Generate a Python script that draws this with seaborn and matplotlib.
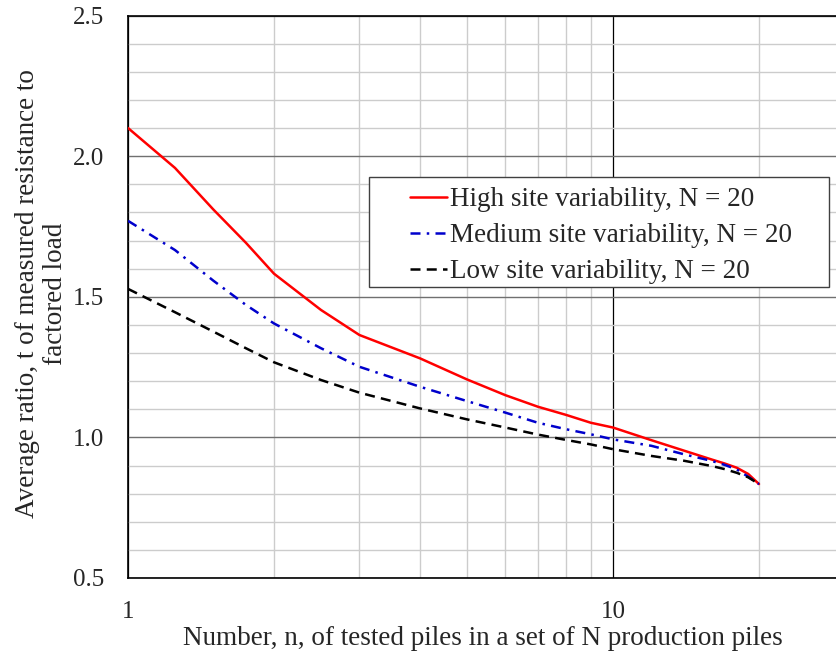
import numpy as np
import pandas as pd
import matplotlib
matplotlib.use("Agg")
import matplotlib.pyplot as plt
from matplotlib.patches import Rectangle
from matplotlib.ticker import FixedLocator, NullFormatter, FuncFormatter
import seaborn as sns

sns.set_style("white")
plt.rcParams["font.family"] = ["Liberation Serif", "DejaVu Serif"]
plt.rcParams["font.size"] = 19.5

# number of tested piles n (N = 20)
n_piles = [1, 1.25, 1.5, 1.75, 2, 2.5, 3, 4, 5, 6, 7, 8, 9, 10,
           12, 14, 16, 17, 18, 19, 20]

high_var = [2.10, 1.958, 1.81, 1.692, 1.582, 1.453, 1.364, 1.281, 1.206, 1.15,
            1.109, 1.08, 1.052, 1.035, 0.99, 0.953, 0.921, 0.907, 0.892, 0.870, 0.834]
medium_var = [1.77, 1.666, 1.557, 1.471, 1.405, 1.317, 1.251, 1.18, 1.129, 1.088,
              1.052, 1.029, 1.011, 0.993, 0.97, 0.94, 0.916, 0.902, 0.886, 0.86, 0.834]
low_var = [1.528, 1.445, 1.376, 1.317, 1.267, 1.204, 1.159, 1.103, 1.064, 1.035,
           1.01, 0.991, 0.975, 0.958, 0.934, 0.917, 0.898, 0.887, 0.874, 0.858, 0.834]

labels = ["High site variability, N = 20",
          "Medium site variability, N = 20",
          "Low site variability, N = 20"]

fig = plt.figure(figsize=(8.36, 6.53), dpi=100)
ax = fig.add_axes([128 / 836, 75 / 653, 708 / 836, 562.5 / 653])

styles = [
    dict(color="#ff0000", linestyle="-"),
    dict(color="#0000cc", linestyle=(0, (4, 2.5, 1, 2.5))),
    dict(color="black", linestyle=(0, (4, 2.5))),
]
for vals, lab, st in zip([high_var, medium_var, low_var], labels, styles):
    df = pd.DataFrame({"n": n_piles, "t": vals})
    sns.lineplot(data=df, x="n", y="t", ax=ax, label=lab, linewidth=1.8,
                 color=st["color"], linestyle=st["linestyle"], zorder=3)

ax.set_xscale("log")
ax.set_xlim(1, 10 ** (708 / 485))
ax.set_ylim(0.5, 2.5)

ax.xaxis.set_major_locator(FixedLocator([1, 10]))
ax.xaxis.set_major_formatter(FuncFormatter(lambda v, p: f"{v:g}"))
ax.xaxis.set_minor_locator(FixedLocator([2, 3, 4, 5, 6, 7, 8, 9, 20]))
ax.xaxis.set_minor_formatter(NullFormatter())
ax.set_yticks([0.5, 1.0, 1.5, 2.0, 2.5])
ax.set_yticklabels(["0.5", "1.0", "1.5", "2.0", "2.5"])
ax.yaxis.set_minor_locator(FixedLocator(np.arange(0.6, 2.5, 0.1)))

ax.grid(True, which="minor", axis="both", color="#cccccc", linewidth=1.0, zorder=0)
ax.grid(True, which="major", axis="y", color="#707070", linewidth=1.0, zorder=1)
ax.grid(True, which="major", axis="x", color="black", linewidth=0.9, zorder=1)

ax.tick_params(which="major", direction="out", length=6, width=1, color="#707070",
               labelsize=18)
ax.tick_params(axis="y", pad=11)
ax.tick_params(axis="x", pad=10.5)
ax.tick_params(which="minor", length=0)

for s in ["left", "top", "bottom"]:
    ax.spines[s].set_color("black")
    ax.spines[s].set_linewidth(1.2)
ax.spines["right"].set_visible(False)

ax.set_xlabel("Number, n, of tested piles in a set of N production piles", fontsize=19.5)
ax.xaxis.set_label_coords(0.501, -0.086)
ax.set_ylabel("Average ratio, t of measured resistance to\nfactored load", fontsize=19.5,
              multialignment="center", linespacing=1.15)
ax.yaxis.set_label_coords(-0.085, 0.506)

# legend frame
ax.add_patch(Rectangle((0.3404, 0.5173), 0.6496, 0.1956, transform=ax.transAxes,
                       facecolor="white", edgecolor="#404040", linewidth=1.0, zorder=4))
leg = ax.legend(loc="upper left", bbox_to_anchor=(0.398, 0.695), frameon=False,
                fontsize=19.5, handlelength=1.37, handletextpad=0.1, borderpad=0,
                labelspacing=0.41, borderaxespad=0)
leg.set_zorder(5)

fig.savefig("out.png", dpi=100)
